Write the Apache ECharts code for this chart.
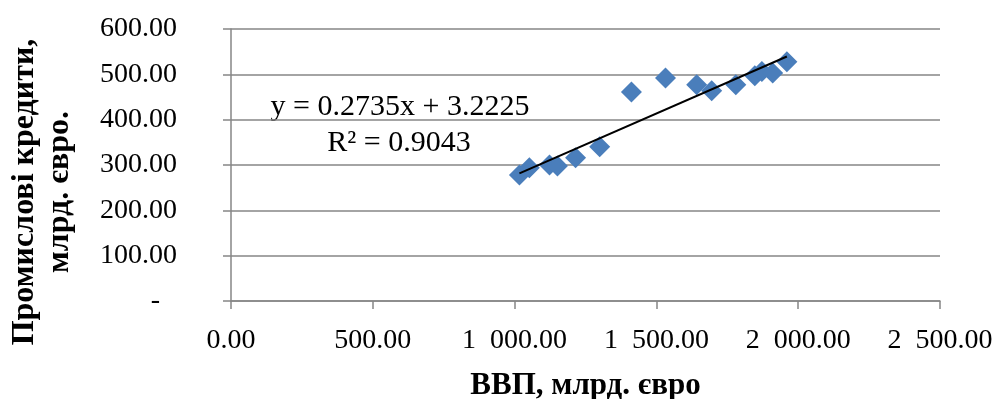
<!DOCTYPE html>
<html>
<head>
<meta charset="utf-8">
<script src="https://cdn.jsdelivr.net/npm/echarts@6/dist/echarts.min.js"></script>
<style>html,body{margin:0;padding:0;background:#fff;}#c{width:992px;height:399px;}</style>
</head>
<body>
<div id="c"></div>
<script>
// GDP, bn EUR (x) and industrial loans, bn EUR (y)
var gdp   = [1017, 1052, 1123, 1151, 1215, 1300, 1412, 1532, 1642, 1695, 1780, 1847, 1872, 1910, 1960];
var loans = [278,  294,  300,  298,  316,  340,  461,  492,  477,  464,  477,  497,  506,  503,  528];
var xTicks = [0, 500, 1000, 1500, 2000, 2500];
var yTicks = [0, 100, 200, 300, 400, 500, 600];
var slope = 0.2735, intercept = 3.2225, r2 = 0.9043;

var FONT = '"Liberation Serif","Times New Roman",serif';
function fmt(v){
  var s = v.toFixed(2);
  var parts = s.split('.');
  parts[0] = parts[0].replace(/\B(?=(\d{3})+(?!\d))/g, '  ');
  return parts.join('.');
}
var pts = gdp.map(function(g,i){return [g, loans[i]];});
var xmin = Math.min.apply(null, gdp), xmax = Math.max.apply(null, gdp);
var trend = [[xmin, slope*xmin+intercept],[xmax, slope*xmax+intercept]];

var chart = echarts.init(document.getElementById('c'));
chart.setOption({
  animation:false,
  grid:{left:231, right:52, top:29, bottom:98, outerBoundsMode:'none', containLabel:false},
  xAxis:{
    type:'value', min:xTicks[0], max:xTicks[xTicks.length-1], interval:500,
    name:'ВВП, млрд. євро', nameLocation:'middle', nameGap:69,
    nameTextStyle:{fontFamily:FONT, fontSize:31, fontWeight:'bold', color:'#000'},
    axisLine:{show:true, lineStyle:{color:'#868686', width:1.5}},
    axisTick:{show:true, length:8, lineStyle:{color:'#868686', width:1.5}},
    axisLabel:{fontFamily:FONT, fontSize:28, color:'#000', margin:26, formatter:function(v){return fmt(v);}},
    splitLine:{show:false}
  },
  yAxis:{
    type:'value', min:yTicks[0], max:yTicks[yTicks.length-1], interval:100,
    name:'Промислові кредити,\nмлрд. євро.', nameLocation:'middle', nameRotate:90, nameGap:154,
    nameTextStyle:{fontFamily:FONT, fontSize:32, fontWeight:'bold', color:'#000', lineHeight:35, padding:[0,54,0,0]},
    axisLine:{show:true, lineStyle:{color:'#868686', width:1.5}},
    axisTick:{show:true, length:8, lineStyle:{color:'#868686', width:1.5}},
    axisLabel:{fontFamily:FONT, fontSize:28, color:'#000', margin:54,
      formatter:function(v){return v===0 ? '{d|-}' : fmt(v);},
      rich:{d:{fontFamily:FONT, fontSize:28, color:'#000', padding:[0,17,0,0]}}},
    splitLine:{show:true, lineStyle:{color:'#868686', width:1.5}}
  },
  series:[
    {type:'scatter', data:pts, symbol:'diamond', symbolSize:21, itemStyle:{color:'#4A7EBB', opacity:1}, z:3},
    {type:'line', data:trend, symbol:'none', lineStyle:{color:'#000', width:2}, z:4}
  ],
  graphic:[
    {type:'text', x:400, y:107, style:{text:'y = '+slope+'x + '+intercept, fontFamily:FONT, fontSize:30, fill:'#000', align:'center', verticalAlign:'middle'}},
    {type:'text', x:399, y:143, style:{text:'R² = '+r2, fontFamily:FONT, fontSize:30, fill:'#000', align:'center', verticalAlign:'middle'}}
  ]
});
</script>
</body>
</html>
